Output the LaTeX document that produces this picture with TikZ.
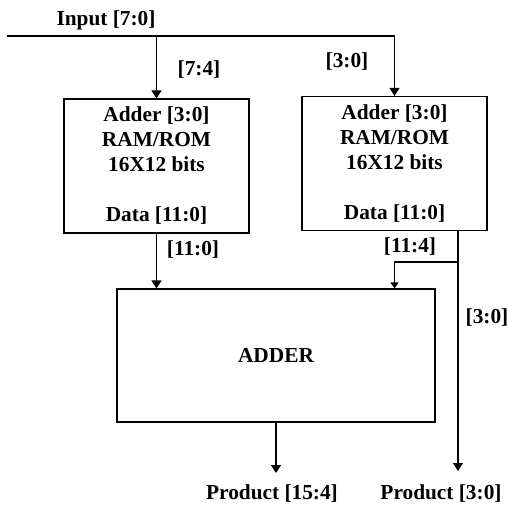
\documentclass[tikz,border=0pt]{standalone}
\usepackage{fontspec}
\setmainfont{Liberation Serif}
\usepackage{tikz}
\usetikzlibrary{arrows.meta}

\begin{document}
\begin{tikzpicture}[x=0.75pt, y=-0.75pt,
		font=\fontsize{16}{18.75}\selectfont\bfseries,
		memblock/.style = {rectangle, draw=black, line width=0.3mm, align=center,
			minimum width = 138.75pt, minimum height = 100.5pt, inner sep=0pt},
		wire/.style = {line width=0.3mm},
		sig/.style = {wire, -{Triangle[length=6pt, width=7.5pt]}},
		lbl/.style = {inner sep=0pt}]
	\useasboundingbox (0,0) rectangle (507,509);
	% two lookup tables and the adder
	\node[memblock] (romL) at(156.5,166){Adder [3:0]\\RAM/ROM\\16X12 bits\\[18.75pt]Data [11:0]};
	\node[memblock] (romR) at(394.5,163.5){Adder [3:0]\\RAM/ROM\\16X12 bits\\[18.75pt]Data [11:0]};
	\node[memblock, minimum width = 238.5pt, minimum height = 99.75pt] (adder) at(276,355.5){ADDER};
	% bus labels
	\node[lbl] (inlbl) at(106,20){Input [7:0]};
	\node[lbl] (hiin) at(199,70){[7:4]};
	\node[lbl] (loin) at(347,62){[3:0]};
	\node[lbl] (datal) at(193,250){[11:0]};
	\node[lbl] (datah) at(410,247){[11:4]};
	\node[lbl] (datalo) at(487,318){[3:0]};
	\node[lbl] (prodhi) at(272,494){Product [15:4]};
	\node[lbl] (prodlo) at(441,494){Product [3:0]};
	\coordinate (in) at(7,36);
	\coordinate (split) at(458,262);
	\coordinate (outhi) at(276,473);
	\coordinate (outlo) at(458,471);
	% wiring
	\draw[sig] (in) -| (romR.north);
	\draw[sig] (romL.north |- in) -- (romL.north);
	\draw[sig] (romL.south) -- (romL.south |- adder.north);
	\draw[sig] (romR.south -| split) -- (outlo);
	\draw[wire, -{Triangle[length=4.5pt, width=6pt]}] (split) -| (romR.south |- adder.north);
	\draw[sig] (adder.south) -- (outhi);
\end{tikzpicture}
\end{document}
